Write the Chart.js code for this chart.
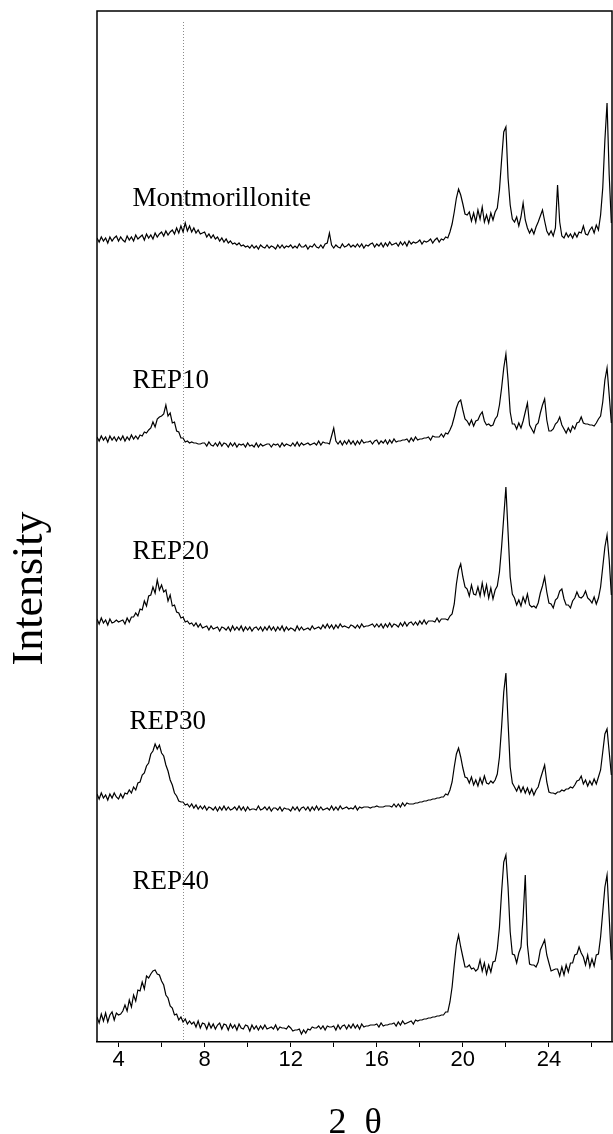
<!DOCTYPE html>
<html><head><meta charset="utf-8">
<script src="https://cdn.jsdelivr.net/npm/chart.js@4.4.1/dist/chart.umd.min.js"></script>
<style>html,body{margin:0;padding:0;background:#fff;}#wrap{width:613px;height:1134px;}</style>
</head><body><div id="wrap"><canvas id="c" width="613" height="1134"></canvas></div>
<script>
// 2θ sampling grid: 3.0 .. 26.9 in 0.1° steps (240 samples)
const thetaStart = 3.0;
const thetaStep = 0.1;
const sampleCount = 240;

const seriesNames = ['Montmorillonite', 'REP10', 'REP20', 'REP30', 'REP40'];

// intensities (arbitrary units) above each trace's own zero line; one row per degree
const montmorillonite = [
 12,8,13,9,12,7,13,9,12,14,
 9,13,10,8,14,10,13,9,15,11,
 13,15,10,16,12,15,11,17,13,16,
 18,14,19,15,18,20,16,22,17,24,
 18,27,19,24,18,22,17,20,16,17,
 18,13,16,12,15,11,13,9,12,8,
 11,7,9,6,7,5,7,4,5,3,
 4,2,5,2,4,1,5,3,2,5,
 2,4,3,1,5,2,5,2,4,3,
 5,2,4,2,6,3,3,5,1,4,
 3,6,3,2,5,2,6,7,17,5,
 2,5,3,2,6,3,4,6,3,5,
 3,6,3,6,2,5,4,6,7,3,
 6,4,7,3,7,4,8,5,6,7,
 4,8,5,8,4,9,6,8,7,8,
 10,6,9,8,9,11,7,10,12,8,
 11,10,13,12,18,26,38,52,61,55,
 46,36,35,38,29,37,28,40,31,43,
 28,35,27,37,30,38,42,60,90,118,
 123,72,45,31,28,33,24,33,47,30,
 22,17,21,16,23,28,34,40,29,19,
 15,19,14,22,65,28,14,12,17,13,
 16,12,17,13,18,17,24,16,15,20,
 23,17,25,20,35,62,110,147,75,27
];
const rep10 = [
 13,9,14,10,13,8,14,10,13,9,
 13,10,14,9,13,10,15,11,14,11,
 15,14,18,17,20,22,28,23,31,33,
 34,36,45,34,37,27,28,19,18,12,
 12,8,9,7,8,7,7,6,6,7,
 7,4,8,5,4,7,4,8,4,7,
 6,3,7,4,7,3,6,5,6,3,
 7,4,5,3,7,3,6,4,5,6,
 6,3,6,5,6,3,7,4,6,5,
 4,7,4,8,4,7,5,6,7,5,
 6,7,5,9,5,8,7,7,6,14,
 22,9,6,9,5,9,6,10,6,9,
 5,9,6,10,7,8,8,9,6,9,
 10,6,9,7,10,6,10,7,11,8,
 9,9,10,10,11,8,12,9,13,10,
 11,11,12,12,13,10,14,13,13,13,
 16,13,17,16,20,25,33,42,48,50,
 40,31,29,25,30,24,29,30,35,38,
 29,25,26,24,25,31,34,45,62,82,
 96,70,38,26,26,21,27,22,29,38,
 47,25,21,17,25,27,37,45,51,30,
 19,19,21,26,28,33,25,21,17,22,
 18,24,21,27,28,33,27,26,26,25,
 25,24,27,31,34,48,70,82,55,27
];
const rep20 = [
 13,8,14,9,12,7,13,9,10,12,
 10,11,12,8,14,10,15,15,19,16,
 23,22,31,26,36,37,45,39,52,42,
 47,40,42,31,37,26,27,20,19,14,
 15,10,11,8,9,6,9,5,8,4,
 5,6,2,6,3,4,5,1,5,4,
 2,5,1,6,2,5,2,6,1,5,
 2,5,1,4,5,2,5,1,5,2,
 6,2,5,1,5,2,6,1,5,2,
 4,3,1,6,2,5,2,3,4,2,
 6,3,4,5,3,7,4,8,4,7,
 3,7,4,8,5,6,5,4,7,6,
 4,7,4,8,5,6,6,7,8,5,
 8,5,8,4,8,5,9,5,8,7,
 5,9,6,10,6,9,10,7,10,7,
 11,8,12,8,11,11,11,10,14,10,
 13,13,13,12,16,18,28,48,62,68,
 55,45,43,36,47,38,37,45,36,49,
 37,47,34,44,33,42,46,60,85,115,
 145,100,55,38,34,27,32,26,35,29,
 38,27,25,26,24,29,39,46,55,40,
 29,28,24,32,34,41,43,33,27,27,
 24,31,34,40,35,34,36,41,34,32,
 29,35,28,34,45,65,85,97,72,37
];
const rep30 = [
 18,13,19,14,17,12,18,14,19,15,
 13,18,14,19,18,22,19,25,22,29,
 30,37,39,46,49,58,61,68,63,67,
 59,56,47,41,32,27,19,16,11,10,
 10,7,8,5,8,4,7,3,6,3,
 6,2,5,4,2,5,1,5,2,6,
 2,5,2,3,5,2,6,2,5,1,
 5,2,3,3,2,6,2,3,5,2,
 5,1,4,4,2,5,1,4,3,3,
 1,5,2,5,1,4,5,2,5,1,
 5,2,6,2,5,2,3,4,2,6,
 2,5,2,6,3,4,5,3,4,3,
 6,2,5,4,5,5,5,4,5,5,
 6,5,5,5,6,6,6,5,8,5,
 8,5,9,6,9,8,8,8,9,9,
 10,10,11,11,12,12,13,13,14,14,
 15,15,18,17,22,30,45,58,64,55,
 44,35,34,29,35,27,32,26,34,28,
 36,29,28,31,29,32,38,55,85,120,
 139,90,45,29,25,21,26,20,25,19,
 24,18,23,17,22,25,33,40,47,30,
 20,19,19,18,20,20,22,21,23,23,
 25,24,27,31,32,36,28,32,26,31,
 27,33,28,35,42,60,78,83,60,37
];
const rep40 = [
 20,14,23,16,24,15,22,25,17,24,
 22,23,26,32,26,37,30,42,36,47,
 46,55,48,61,59,63,66,67,63,62,
 56,52,42,39,31,29,22,23,17,20,
 15,18,13,16,13,15,10,16,9,14,
 13,8,14,9,13,8,12,14,8,13,
 12,7,13,9,12,7,13,9,8,12,
 11,6,12,8,11,7,11,8,12,8,
 9,10,8,12,7,10,9,9,8,11,
 9,6,7,7,8,3,7,4,8,7,
 10,9,9,11,8,11,7,11,10,10,
 11,7,12,8,11,12,8,12,9,13,
 9,12,8,13,10,11,11,12,12,12,
 13,10,14,11,12,12,13,13,14,11,
 15,12,16,13,14,15,16,13,17,16,
 17,17,18,18,19,19,20,20,21,21,
 22,22,25,25,35,50,72,92,102,90,
 80,70,70,72,68,69,66,68,77,66,
 74,63,72,65,75,76,88,110,145,175,
 182,150,105,83,82,74,84,90,120,162,
 92,73,72,72,70,75,87,92,97,82,
 74,66,67,68,68,61,70,62,72,65,
 74,74,82,83,90,84,80,72,82,70,
 78,71,82,83,100,125,150,162,120,77
];

// vertical stacking offsets of the traces
const offsets = [792, 592, 410, 230, 5];
// trace name anchors (2θ, level)
const labelTheta = [4.65, 4.65, 4.65, 4.51, 4.65];
const labelLevel = [836, 654, 483, 313, 153];
// x axis
const xMin = 3, xMax = 26.93, tickStep = 2, labelEvery = 4;
const referenceLineTheta = 7.0;

const allSeries = [montmorillonite, rep10, rep20, rep30, rep40];
const grid = [];
for (let i = 0; i < sampleCount; i++) grid.push(Math.round((thetaStart + i * thetaStep) * 10) / 10);

const datasets = allSeries.map((arr, k) => ({
  label: seriesNames[k],
  data: arr.map((v, i) => ({ x: grid[i], y: offsets[k] + v })),
  borderColor: '#000',
  borderWidth: 1.2,
  pointRadius: 0,
  tension: 0,
  fill: false
}));

const decor = {
  id: 'decor',
  beforeDatasetsDraw(chart) {
    const { ctx, chartArea: a, scales: { x } } = chart;
    const px = Math.round(x.getPixelForValue(referenceLineTheta)) + 0.5;
    ctx.save();
    ctx.strokeStyle = '#8a8a8a';
    ctx.lineWidth = 1;
    ctx.setLineDash([1, 2]);
    ctx.beginPath();
    ctx.moveTo(px, a.top + 11);
    ctx.lineTo(px, a.bottom);
    ctx.stroke();
    ctx.restore();
  },
  afterDraw(chart) {
    const { ctx, chartArea: a, scales: { x, y } } = chart;
    ctx.save();
    ctx.strokeStyle = '#000';
    ctx.lineWidth = 1.5;
    ctx.beginPath();
    ctx.moveTo(a.left, a.bottom);
    ctx.lineTo(a.left, a.top);
    ctx.lineTo(a.right, a.top);
    ctx.lineTo(a.right, a.bottom);
    ctx.stroke();
    ctx.fillStyle = '#000';
    ctx.font = '27px "Liberation Serif", "Times New Roman", serif';
    ctx.textAlign = 'left';
    ctx.textBaseline = 'alphabetic';
    seriesNames.forEach((n, k) => {
      ctx.fillText(n, x.getPixelForValue(labelTheta[k]), y.getPixelForValue(labelLevel[k]));
    });
    // y title
    ctx.save();
    ctx.font = '44px "Liberation Serif", "Times New Roman", serif';
    ctx.translate(42, (a.top + a.bottom) / 2 + 62);
    ctx.rotate(-Math.PI / 2);
    ctx.textAlign = 'center';
    ctx.fillText('Intensity', 0, 0);
    ctx.restore();
    // x title
    ctx.font = '36px "Liberation Serif", "Times New Roman", serif';
    ctx.textAlign = 'left';
    const cx = (a.left + a.right) / 2;
    ctx.fillText('2', cx - 26, 1133);
    ctx.fillText('\u03B8', cx + 10, 1133);
    ctx.restore();
  }
};

new Chart(document.getElementById('c'), {
  type: 'line',
  data: { datasets },
  options: {
    responsive: false,
    animation: false,
    layout: { padding: { left: 97, right: 1, top: 11, bottom: 0 } },
    plugins: { legend: { display: false }, tooltip: { enabled: false } },
    scales: {
      x: {
        type: 'linear',
        min: xMin,
        max: xMax,
        afterFit(scale) { scale.height = 92; },
        ticks: {
          stepSize: tickStep,
          includeBounds: false,
          autoSkip: false,
          maxRotation: 0,
          padding: 0,
          color: '#000',
          font: { family: '"Liberation Sans", Arial, sans-serif', size: 22 },
          callback: (v) => (v % labelEvery === 0 ? String(v) : '')
        },
        grid: { drawOnChartArea: false, tickLength: 5, color: '#000', lineWidth: 1 },
        border: { display: true, color: '#000', width: 1.5 }
      },
      y: { display: false, min: 0, max: 1031 }
    }
  },
  plugins: [decor]
});
</script></body></html>
